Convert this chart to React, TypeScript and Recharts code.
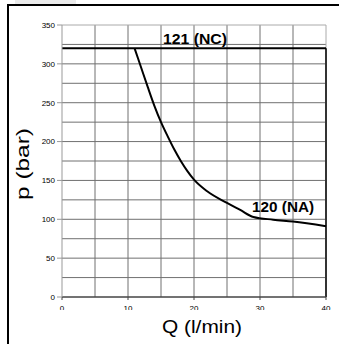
import { Line, LineChart, ReferenceDot, ReferenceLine, XAxis, YAxis } from "recharts";

// curve (flow Q in l/min, pressure p in bar)
const flow = [11, 12, 13, 14, 15, 16, 17, 18, 19, 20, 22, 25, 27, 29, 32, 35, 40];
const pressure = [320, 295, 270, 246, 225, 207, 190, 175, 162, 151, 136, 121, 112, 103, 99.5, 97, 91];

const xTicks = [0, 10, 20, 30, 40];
const yTicks = [0, 50, 100, 150, 200, 250, 300, 350];
const xGrid = [5, 10, 15, 20, 25, 30, 35];
const yGrid = [25, 50, 75, 100, 125, 150, 175, 200, 225, 250, 275, 300, 325];

const ncLimit = 320;
const ncLabel = "121 (NC)";
const naLabel = "120 (NA)";
const naAnchor = { q: 33.5, p: 109 };

const data = flow.map((q, i) => ({ q, p: pressure[i] }));

const font = '"Liberation Sans", Arial, sans-serif';
const gridColor = "#707070";

export default function App() {
  return (
    <div style={{ position: "absolute", left: 0, top: 0, width: 339, height: 344, background: "#fff" }}>
      <div style={{ position: "absolute", left: 15, top: 0, width: 61, height: 4, background: "#ebebeb" }} />
      <div
        style={{
          position: "absolute",
          left: 7,
          top: 4,
          width: 332,
          height: 340,
          borderLeft: "2px solid #000",
          borderTop: "2px solid #000",
          boxSizing: "border-box",
        }}
      />
      <div style={{ position: "absolute", left: 0, top: 0 }}>
        <LineChart
          width={339}
          height={344}
          data={data}
          margin={{ top: 25, right: 13, bottom: 0, left: 0 }}
          style={{ fontFamily: font }}
        >
          <XAxis
            type="number"
            dataKey="q"
            domain={[0, 40]}
            ticks={xTicks}
            height={47}
            tickSize={3}
            tickMargin={5}
            tick={{ fontSize: 8, fill: "#000" }}
            stroke="#444"
            label={{
              content: (props: any) => {
                const vb = props.viewBox;
                return (
                  <text
                    x={vb.x + vb.width / 2 + 8}
                    y={vb.y + 36}
                    textAnchor="middle"
                    fontSize={19}
                    textLength={80}
                    lengthAdjust="spacingAndGlyphs"
                    fill="#000"
                    fontFamily={font}
                  >
                    Q (l/min)
                  </text>
                );
              },
            }}
          />
          <YAxis
            type="number"
            domain={[0, 350]}
            ticks={yTicks}
            width={62}
            tickSize={5}
            tick={{ fontSize: 8, fill: "#000" }}
            stroke="#999"
            label={{
              content: (props: any) => {
                const vb = props.viewBox;
                const cx = vb.x + 29;
                const cy = vb.y + vb.height / 2 + 3;
                return (
                  <text
                    x={cx}
                    y={cy}
                    transform={`rotate(-90 ${cx} ${cy})`}
                    textAnchor="middle"
                    fontSize={19}
                    textLength={72}
                    lengthAdjust="spacingAndGlyphs"
                    fill="#000"
                    fontFamily={font}
                  >
                    p (bar)
                  </text>
                );
              },
            }}
          />

          {yGrid.map((v) => (
            <ReferenceLine key={`h${v}`} y={v} stroke={gridColor} strokeWidth={1} />
          ))}
          {xGrid.map((v) => (
            <ReferenceLine key={`v${v}`} x={v} stroke={gridColor} strokeWidth={1} />
          ))}
          <ReferenceLine y={350} stroke="#aaa" />
          <ReferenceLine x={40} stroke="#aaa" />
          <ReferenceLine
            segment={[
              { x: 40, y: 0 },
              { x: 40, y: ncLimit },
            ]}
            stroke="#333"
            strokeWidth={2}
          />
          <ReferenceLine y={0} stroke="#444" />

          <ReferenceLine
            y={ncLimit}
            stroke="#000"
            strokeWidth={2}
            label={{
              content: (props: any) => {
                const vb = props.viewBox;
                return (
                  <text
                    x={vb.x + vb.width / 2 + 1}
                    y={vb.y - 4}
                    textAnchor="middle"
                    fontSize={15}
                    fontWeight="bold"
                    textLength={64}
                    lengthAdjust="spacingAndGlyphs"
                    fill="#000"
                    fontFamily={font}
                  >
                    {ncLabel}
                  </text>
                );
              },
            }}
          />

          <Line
            type="monotone"
            dataKey="p"
            stroke="#000"
            strokeWidth={2}
            dot={false}
            activeDot={false}
            isAnimationActive={false}
          />

          <ReferenceDot
            x={naAnchor.q}
            y={naAnchor.p}
            r={0}
            fill="none"
            stroke="none"
            label={{
              content: (props: any) => {
                const vb = props.viewBox;
                return (
                  <text
                    x={vb.x + (vb.width || 0) / 2}
                    y={vb.y + (vb.height || 0) / 2}
                    textAnchor="middle"
                    fontSize={15}
                    fontWeight="bold"
                    textLength={62}
                    lengthAdjust="spacingAndGlyphs"
                    fill="#000"
                    fontFamily={font}
                  >
                    {naLabel}
                  </text>
                );
              },
            }}
          />
        </LineChart>
      </div>
      {/* the reference crops the bottom of the Q tick labels */}
      <div style={{ position: "absolute", left: 40, top: 310, width: 299, height: 7, background: "#fff" }} />
    </div>
  );
}
